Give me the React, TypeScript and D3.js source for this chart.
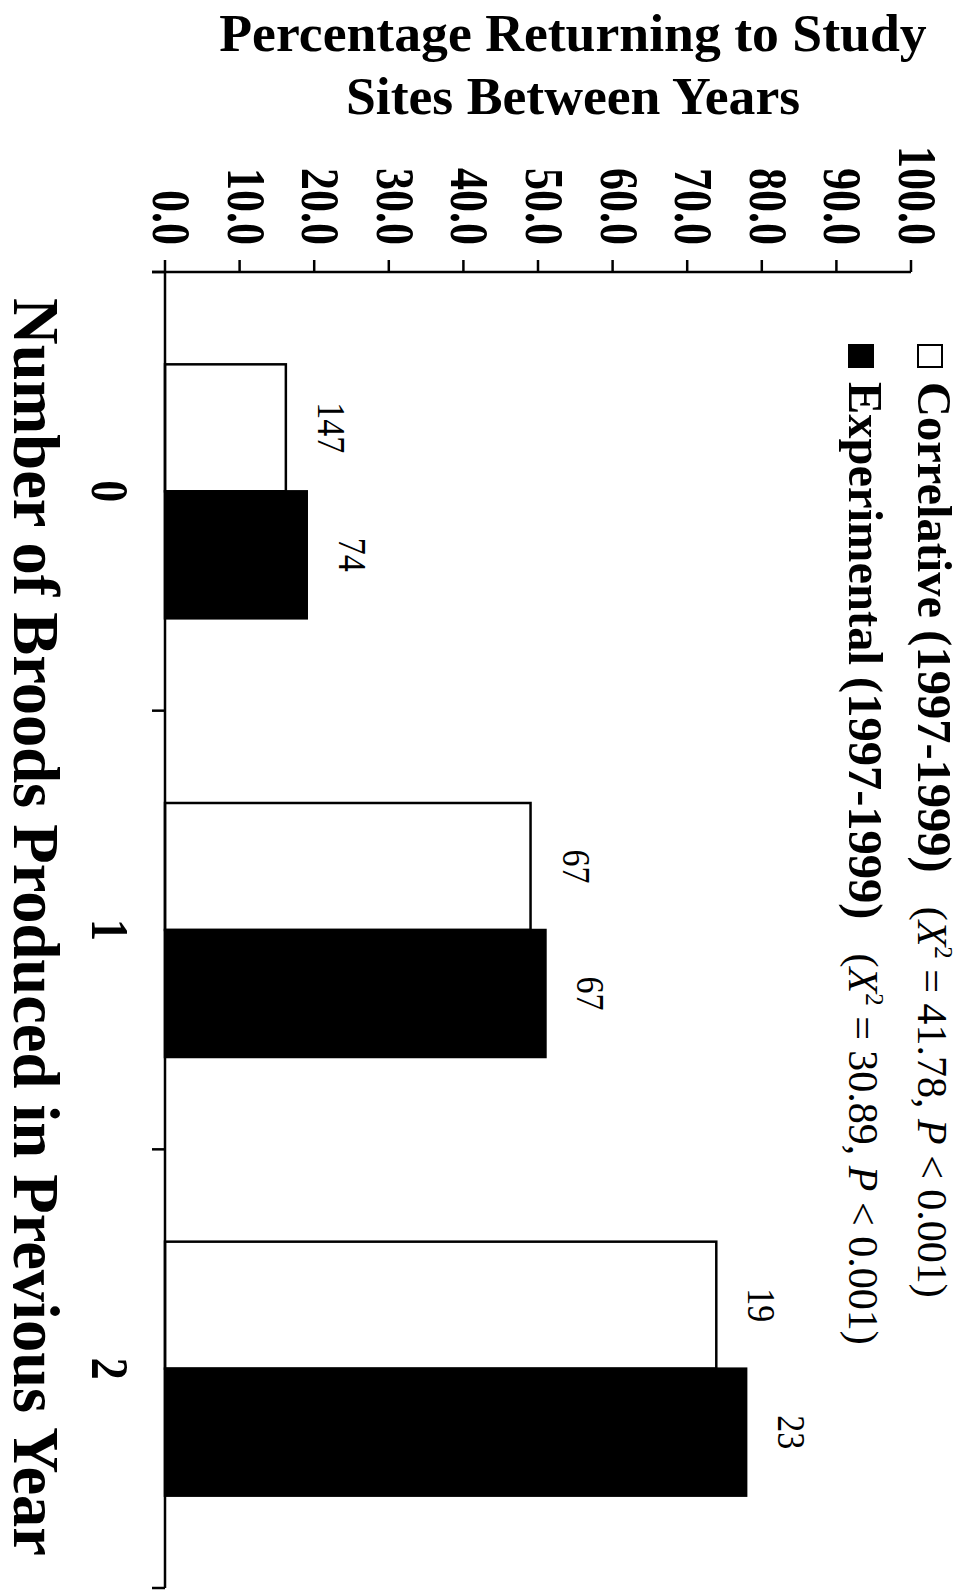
import React from "react";
import * as d3 from "d3";

const categories = ["0", "1", "2"];
const seriesNames = ["Correlative", "Experimental"];
const correlative = [16.2, 49.0, 73.9];
const experimental = [19.0, 51.0, 77.9];
const correlativeN = [147, 67, 19];
const experimentalN = [74, 67, 23];
const valueTicks = [0, 10, 20, 30, 40, 50, 60, 70, 80, 90, 100];
const legendLabels = ["Correlative (1997-1999)", "Experimental (1997-1999)"];
const chiValues = ["41.78", "30.89"];
const pValues = ["0.001", "0.001"];
const titleLines = ["Percentage Returning to Study", "Sites Between Years"];
const xTitle = "Number of Broods Produced in Previous Year";

const FONT = "'Liberation Serif', 'Times New Roman', serif";

type RTProps = {
  x: number;
  y: number;
  size: number;
  stretch?: number;
  weight?: string;
  anchor?: string;
  children?: React.ReactNode;
};

const RT = ({ x, y, size, stretch = 1, weight = "normal", anchor = "start", children }: RTProps) => (
  <text
    transform={`translate(${x},${y}) rotate(90) scale(1,${stretch})`}
    fontSize={size}
    fontWeight={weight}
    textAnchor={anchor}
    fontFamily={FONT}
    fill="#000"
  >
    {children}
  </text>
);

export default function App() {
  const W = 968;
  const H = 1591;
  const x = d3.scaleLinear().domain([0, 100]).range([165, 911]);
  const cat = d3.scaleBand<string>().domain(categories).range([272, 1588]).padding(0);
  const ser = d3
    .scaleBand<string>()
    .domain(seriesNames)
    .range([0, cat.bandwidth()])
    .paddingInner(0)
    .paddingOuter(0.727);

  const seriesData = [
    { name: seriesNames[0], values: correlative, ns: correlativeN, fill: "#fff" },
    { name: seriesNames[1], values: experimental, ns: experimentalN, fill: "#000" },
  ];

  const catBoundaries = categories.map((c) => cat(c) as number).concat([cat.range()[1]]);
  const axisY = 272;
  const axisX = x(0);

  return (
    <svg
      width={W}
      height={H}
      style={{ position: "absolute", left: 0, top: 0, background: "#fff" }}
      xmlns="http://www.w3.org/2000/svg"
    >
      <rect x={0} y={0} width={W} height={H} fill="#fff" />
      {/* Title */}
      {titleLines.map((t, i) => (
        <text
          key={t}
          x={573}
          y={51 + i * 63}
          textAnchor="middle"
          fontSize={53.7}
          fontWeight="bold"
          fontFamily={FONT}
        >
          {t}
        </text>
      ))}

      {/* Bars */}
      {seriesData.map((s) =>
        categories.map((c, i) => {
          const y0 = (cat(c) as number) + (ser(s.name) as number);
          const bw = ser.bandwidth();
          return (
            <g key={s.name + c}>
              <rect
                x={axisX}
                y={y0}
                width={x(s.values[i]) - axisX}
                height={bw}
                fill={s.fill}
                stroke="#000"
                strokeWidth={2.5}
              />
              <RT x={x(s.values[i]) + 32} y={y0 + bw / 2} size={34} stretch={1.2} anchor="middle">
                {s.ns[i]}
              </RT>
            </g>
          );
        })
      )}

      {/* Value axis (top) */}
      <line x1={152} x2={x(100)} y1={axisY} y2={axisY} stroke="#000" strokeWidth={2.5} />
      {valueTicks.map((t) => (
        <g key={t}>
          <line x1={x(t)} x2={x(t)} y1={axisY - 12} y2={axisY} stroke="#000" strokeWidth={2.5} />
          <RT x={x(t) - 12} y={245} size={44} stretch={1.25} weight="bold" anchor="end">
            {t.toFixed(1)}
          </RT>
        </g>
      ))}

      {/* Category axis (left) */}
      <line x1={axisX} x2={axisX} y1={axisY} y2={cat.range()[1]} stroke="#000" strokeWidth={2.5} />
      {catBoundaries.map((b, i) => (
        <line key={i} x1={152} x2={axisX} y1={b} y2={b} stroke="#000" strokeWidth={2.5} />
      ))}
      {categories.map((c) => (
        <RT key={c} x={92} y={(cat(c) as number) + cat.bandwidth() / 2} size={44} stretch={1.2} weight="bold" anchor="middle">
          {c}
        </RT>
      ))}

      {/* X axis title */}
      <RT x={14} y={927} size={64.5} weight="bold" anchor="middle">
        {xTitle}
      </RT>

      {/* Legend */}
      {legendLabels.map((l, i) => {
        const bx = i === 0 ? 918 : 849;
        return (
          <g key={l}>
            <rect
              x={bx}
              y={345}
              width={24}
              height={22}
              fill={i === 0 ? "#fff" : "#000"}
              stroke="#000"
              strokeWidth={2}
            />
            <RT x={bx} y={382} size={48.5} weight="bold">
              {l}
              <tspan fontWeight="normal" fontSize={42} dx={34}>(</tspan>
              <tspan fontWeight="normal" fontSize={42} fontStyle="italic">X</tspan>
              <tspan fontWeight="normal" fontSize={25} dy={-17}>2</tspan>
              <tspan fontWeight="normal" fontSize={42} dy={17}>{` = ${chiValues[i]}, `}</tspan>
              <tspan fontWeight="normal" fontSize={42} fontStyle="italic">P</tspan>
              <tspan fontWeight="normal" fontSize={42}>{` < ${pValues[i]})`}</tspan>
            </RT>
          </g>
        );
      })}
    </svg>
  );
}
